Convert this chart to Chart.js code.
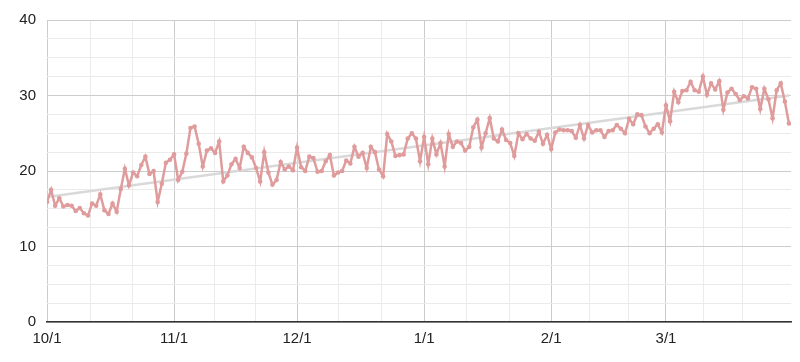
<!DOCTYPE html>
<html>
<head>
<meta charset="utf-8">
<script src="https://cdn.jsdelivr.net/npm/chart.js@4"></script>
<style>
  html, body { margin: 0; padding: 0; background: #fff; }
</style>
</head>
<body>
<canvas id="chart" width="800" height="362"></canvas>
<script>
// daily values, 10/1 .. 3/31 (day index 0..181)
const values = [
  15.9, 17.5, 15.4, 16.4, 15.3, 15.5, 15.4, 14.7, 15.1, 14.4,
  14.1, 15.7, 15.4, 16.9, 14.8, 14.3, 15.7, 14.6, 17.6, 20.3,
  18.1, 19.8, 19.3, 20.8, 21.9, 19.6, 20.0, 15.9, 18.3, 21.1,
  21.5, 22.2, 18.8, 19.9, 22.3, 25.7, 25.9, 23.6, 20.6, 22.7,
  23.0, 22.4, 23.9, 18.6, 19.4, 20.9, 21.6, 20.4, 23.2, 22.4,
  21.8, 20.4, 18.6, 22.5, 19.8, 18.2, 18.8, 21.2, 20.2, 20.6,
  20.1, 23.1, 20.5, 20.0, 21.9, 21.7, 19.9, 20.0, 21.3, 22.1,
  19.4, 19.8, 20.0, 21.4, 21.0, 23.2, 21.9, 22.4, 20.4, 23.2,
  22.5, 20.2, 19.3, 24.9, 23.9, 22.0, 22.1, 22.2, 24.3, 25.0,
  24.3, 21.3, 24.5, 20.9, 24.3, 22.2, 23.7, 20.6, 24.9, 23.2,
  23.9, 23.7, 22.7, 23.2, 25.8, 26.8, 23.1, 25.0, 27.0, 24.3,
  23.9, 25.5, 24.1, 23.7, 22.0, 25.0, 24.2, 24.9, 24.3, 24.0,
  25.2, 23.6, 24.8, 22.9, 25.1, 25.5, 25.4, 25.4, 25.3, 24.4,
  26.1, 24.3, 26.1, 25.1, 25.4, 25.4, 24.5, 25.3, 25.4, 26.1,
  25.6, 25.0, 26.9, 26.2, 27.5, 27.4, 25.9, 25.0, 25.6, 26.2,
  25.1, 28.7, 26.6, 30.5, 29.1, 30.6, 30.7, 31.8, 30.7, 30.5,
  32.5, 30.1, 31.6, 30.8, 31.9, 28.1, 30.4, 30.9, 30.2, 29.4,
  29.9, 29.6, 31.1, 30.9, 28.2, 30.9, 29.5, 27.0, 30.7, 31.6,
  29.2, 26.3
];

// month starts (day index) and their labels
const monthDays = [0, 31, 61, 92, 123, 151];
const monthLabels = ['10/1', '11/1', '12/1', '1/1', '2/1', '3/1'];
// minor vertical grid positions (day index)
const minorDays = [10.5, 20.9, 40.8, 50.8, 71.2, 81.6, 102.4, 112.8, 132.4, 141.8, 160.2, 169.6];

const points = values.map((v, i) => ({ x: i, y: v }));

// least squares trend over the series
const n = values.length;
let sx = 0, sy = 0, sxy = 0, sxx = 0;
values.forEach((v, i) => { sx += i; sy += v; sxy += i * v; sxx += i * i; });
const slope = (n * sxy - sx * sy) / (n * sxx - sx * sx);
const icpt = (sy - slope * sx) / n;
const trend = [{ x: 0, y: icpt }, { x: n - 1, y: icpt + slope * (n - 1) }];

const font = { family: 'Liberation Sans, Arial, sans-serif', size: 15 };

new Chart(document.getElementById('chart'), {
  type: 'line',
  data: {
    datasets: [
      {
        data: points,
        borderColor: '#e09c9c',
        backgroundColor: '#e09c9c',
        borderWidth: 2.5,
        pointRadius: 2.3,
        pointBorderWidth: 0,
        tension: 0,
        order: 1
      },
      {
        data: trend,
        borderColor: '#d9d9d9',
        borderWidth: 2.5,
        pointRadius: 0,
        order: 2
      }
    ]
  },
  options: {
    responsive: false,
    animation: false,
    devicePixelRatio: 1,
    layout: { padding: { top: 18, right: 9, left: 0, bottom: 0 } },
    plugins: { legend: { display: false }, tooltip: { enabled: false } },
    scales: {
      x: {
        type: 'linear',
        min: 0,
        max: 181.5,
        afterBuildTicks: s => {
          s.ticks = monthDays.concat(minorDays).sort((a, b) => a - b).map(v => ({ value: v }));
        },
        afterFit: s => { s.height = 40; },
        ticks: {
          autoSkip: false,
          maxRotation: 0,
          padding: 8,
          color: '#222',
          font: font,
          callback: v => {
            const k = monthDays.indexOf(v);
            return k >= 0 ? monthLabels[k] : '';
          }
        },
        grid: {
          drawTicks: false,
          color: c => monthDays.includes(c.tick.value) ? '#cccccc' : '#ebebeb'
        },
        border: { color: '#333333', width: 1.5 }
      },
      y: {
        min: 0,
        max: 40,
        afterBuildTicks: s => {
          const t = [];
          for (let v = 0; v <= 40; v += 2.5) t.push({ value: v });
          s.ticks = t;
        },
        afterFit: s => { s.width = 47; },
        ticks: {
          autoSkip: false,
          padding: 11,
          color: '#222',
          font: font,
          callback: v => (v % 10 === 0 ? String(v) : '')
        },
        grid: {
          drawTicks: false,
          color: c => (c.tick.value % 10 === 0 ? '#cccccc' : '#ebebeb')
        },
        border: { display: false }
      }
    }
  }
});
</script>
</body>
</html>
